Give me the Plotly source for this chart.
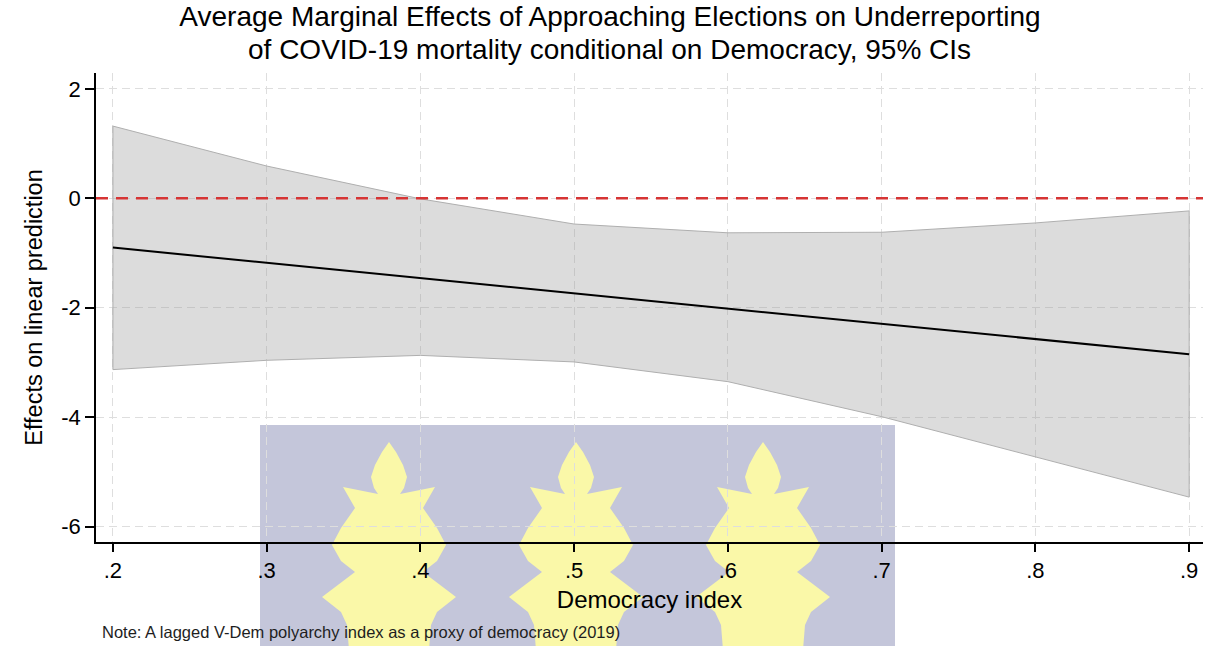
import plotly.graph_objects as go

# ---- data ----
democracy = [0.2, 0.3, 0.4, 0.5, 0.6, 0.7, 0.8, 0.9]
effect = [-0.90, -1.18, -1.46, -1.74, -2.01, -2.29, -2.57, -2.85]
ci_upper = [1.32, 0.59, -0.01, -0.47, -0.63, -0.62, -0.45, -0.23]
ci_lower = [-3.13, -2.96, -2.87, -2.99, -3.35, -3.99, -4.72, -5.46]
ref_value = 0

x_tickvals = [0.2, 0.3, 0.4, 0.5, 0.6, 0.7, 0.8, 0.9]
x_ticktext = [".2", ".3", ".4", ".5", ".6", ".7", ".8", ".9"]
y_tickvals = [2, 0, -2, -4, -6]
y_ticktext = ["2", "0", "-2", "-4", "-6"]

title_line1 = "Average Marginal Effects of Approaching Elections on Underreporting"
title_line2 = "of COVID-19 mortality conditional on Democracy, 95% CIs"
note_text = "Note: A lagged V-Dem polyarchy index as a proxy of democracy (2019)"

W, H = 1208, 646
ML, MR, MT, MB = 96, 5, 73, 104
PW, PH = W - ML - MR, H - MT - MB

FONT = "Liberation Sans, Arial, sans-serif"
TITLE_SIZE = 28

fig = go.Figure()

# CI band
fig.add_trace(go.Scatter(
    x=democracy + democracy[::-1] + [democracy[0]],
    y=ci_upper + ci_lower[::-1] + [ci_upper[0]],
    fill="toself", fillcolor="rgba(150,150,150,0.33)",
    line=dict(color="rgb(175,175,175)", width=1),
    mode="lines", hoverinfo="skip", showlegend=False))

# point estimate
fig.add_trace(go.Scatter(
    x=democracy, y=effect, mode="lines",
    line=dict(color="black", width=2), showlegend=False))

# reference line at 0
fig.add_shape(type="line", xref="paper", x0=0, x1=1, yref="y", y0=ref_value, y1=ref_value,
              line=dict(color="rgb(214,52,52)", width=2.5, dash="12px,8px"), layer="above")


# ---- background watermark (decoration) ----
def px2paper(px, py):
    return (px - ML) / PW, (H - MB - py) / PH


def path_from(points):
    parts = []
    for i, (px, py) in enumerate(points):
        xp, yp = px2paper(px, py)
        parts.append(("M" if i == 0 else "L") + f"{xp:.5f},{yp:.5f}")
    return " ".join(parts) + " Z"


x0, y0 = px2paper(260, 425)
x1, y1 = px2paper(895, 650)
fig.add_shape(type="rect", xref="paper", yref="paper", x0=x0, x1=x1, y0=y1, y1=y0,
              fillcolor="rgb(196,198,218)", line=dict(width=0), layer="below")

half = [(0, 442), (7, 452), (14, 465), (18, 477), (15, 488), (11, 494), (46, 487),
        (34, 508), (48, 528), (57, 545), (48, 561), (34, 572), (67, 597), (48, 612),
        (42, 625), (40, 650)]
for cx in [389, 576, 763]:
    right = [(cx + dx, y) for dx, y in half]
    left = [(cx - dx, y) for dx, y in half[::-1]]
    fig.add_shape(type="path", xref="paper", yref="paper", path=path_from(right + left),
                  fillcolor="rgb(250,248,168)", line=dict(width=0), layer="below")

fig.update_layout(
    width=W, height=H,
    margin=dict(l=ML, r=MR, t=MT, b=MB),
    paper_bgcolor="white", plot_bgcolor="rgba(0,0,0,0)",
    font=dict(family=FONT, color="black"),
    title=dict(text=title_line1,
               xref="container", x=610 / W, xanchor="center",
               yref="container", y=1 - 16 / H, yanchor="middle",
               font=dict(size=TITLE_SIZE, family=FONT, color="black")),
    showlegend=False,
)

fig.add_annotation(text=title_line2, xref="paper", yref="paper",
                   x=px2paper(609, 0)[0], y=px2paper(0, 49)[1],
                   xanchor="center", yanchor="middle", showarrow=False,
                   font=dict(size=TITLE_SIZE, family=FONT, color="black"))

fig.update_xaxes(
    range=[0.189, 0.909], tickvals=x_tickvals, ticktext=x_ticktext,
    showline=True, linecolor="black", linewidth=1.5, mirror=False,
    ticks="outside", ticklen=8, tickcolor="black", tickwidth=1.5,
    tickfont=dict(size=22, family=FONT),
    showgrid=True, gridcolor="rgb(222,222,222)", griddash="8px,5px", gridwidth=1,
    zeroline=False,
    title=dict(text="Democracy index", font=dict(size=24, family=FONT), standoff=9),
)
fig.update_yaxes(
    range=[-6.28, 2.29], tickvals=y_tickvals, ticktext=y_ticktext,
    showline=True, linecolor="black", linewidth=1.5, mirror=False,
    ticks="outside", ticklen=9, tickcolor="black", tickwidth=1.5,
    tickfont=dict(size=22, family=FONT),
    showgrid=True, gridcolor="rgb(222,222,222)", griddash="8px,5px", gridwidth=1,
    zeroline=False,
    title=dict(text="Effects on linear prediction", font=dict(size=23.5, family=FONT), standoff=12),
)

fig.add_annotation(text=note_text,
                   xref="paper", yref="paper", x=px2paper(100, 0)[0], y=px2paper(0, 632)[1],
                   xanchor="left", yanchor="middle", showarrow=False,
                   font=dict(size=16.5, family=FONT, color="rgb(30,30,30)"))

fig.write_html("out.html")
